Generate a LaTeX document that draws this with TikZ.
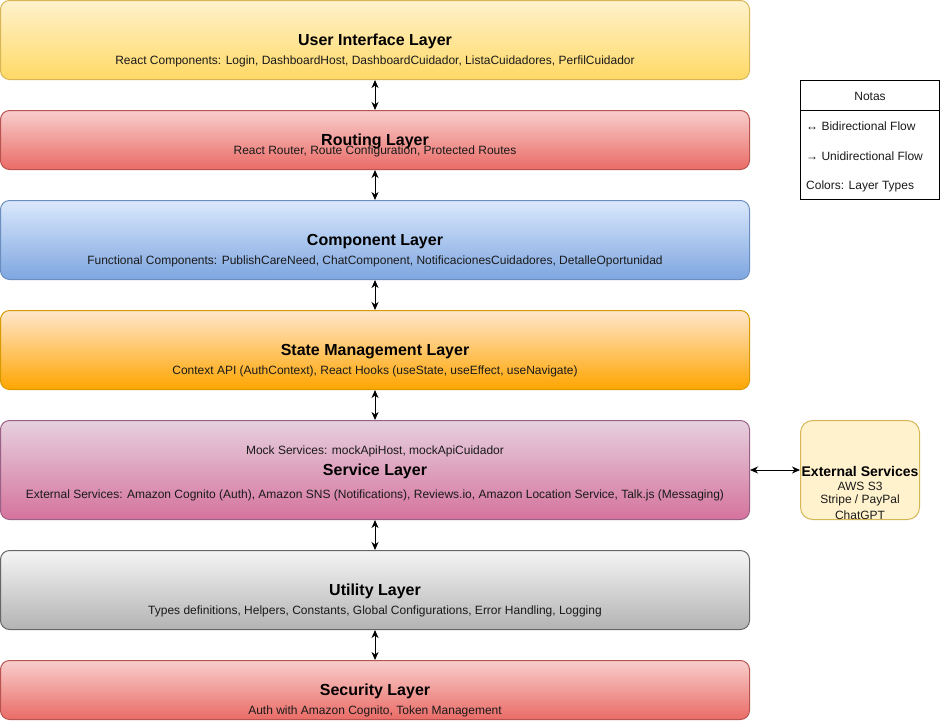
\documentclass[tikz,border=0pt]{standalone}
\usepackage{fontspec}
\setmainfont{Liberation Sans}
\usetikzlibrary{arrows.meta}
\definecolor{uiTop}{HTML}{FFF2CC}\definecolor{uiBot}{HTML}{FFD966}\definecolor{uiStr}{HTML}{D6B656}
\definecolor{rtTop}{HTML}{F8CECC}\definecolor{rtBot}{HTML}{EA6B66}\definecolor{rtStr}{HTML}{B85450}
\definecolor{cpTop}{HTML}{DAE8FC}\definecolor{cpBot}{HTML}{7EA6E0}\definecolor{cpStr}{HTML}{6C8EBF}
\definecolor{stTop}{HTML}{FFE6CC}\definecolor{stBot}{HTML}{FFA500}\definecolor{stStr}{HTML}{D79B00}
\definecolor{svTop}{HTML}{E6D0DE}\definecolor{svBot}{HTML}{D5739D}\definecolor{svStr}{HTML}{996185}
\definecolor{utTop}{HTML}{F5F5F5}\definecolor{utBot}{HTML}{B3B3B3}\definecolor{utStr}{HTML}{666666}
\definecolor{txt}{HTML}{1A1A1A}
\begin{document}
\begin{tikzpicture}[x=1pt,y=-1pt,
  layerbox/.style={draw, line width=1pt, rounded corners=9pt, minimum width=749pt, inner sep=0pt},
  titletext/.style={font=\fontsize{16}{19}\selectfont\bfseries, inner sep=0pt, text=black, yshift=-1.5pt},
  subtext/.style={font=\fontsize{12}{14}\selectfont, inner sep=0pt, text=txt, yshift=-1.2pt},
  notetext/.style={font=\fontsize{12}{14}\selectfont, inner sep=0pt, anchor=west, text=txt, yshift=-1.2pt},
  biarrow/.style={line width=1pt, {Stealth[length=8pt,width=7pt,inset=2.5pt]}-{Stealth[length=8pt,width=7pt,inset=2.5pt]}}
]
\useasboundingbox (0,0) rectangle (941,721);

\node[layerbox, minimum height=79pt, top color=uiTop, bottom color=uiBot, draw=uiStr] (ui) at (375,40) {};
\node[layerbox, minimum height=59pt, top color=rtTop, bottom color=rtBot, draw=rtStr] (rt) at (375,140) {};
\node[layerbox, minimum height=79pt, top color=cpTop, bottom color=cpBot, draw=cpStr] (cp) at (375,240) {};
\node[layerbox, minimum height=79pt, top color=stTop, bottom color=stBot, draw=stStr] (st) at (375,350) {};
\node[layerbox, minimum height=99pt, top color=svTop, bottom color=svBot, draw=svStr] (sv) at (375,470) {};
\node[layerbox, minimum height=79pt, top color=utTop, bottom color=utBot, draw=utStr] (ut) at (375,590) {};
\node[layerbox, minimum height=59pt, top color=rtTop, bottom color=rtBot, draw=rtStr] (sc) at (375,690) {};

\node[titletext] (uiT) at (375,40) {User Interface Layer};
\node[subtext] (uiS) at (375,60) {React Components: Login, DashboardHost, DashboardCuidador, ListaCuidadores, PerfilCuidador};
\node[titletext] (rtT) at (375,140) {Routing Layer};
\node[subtext] (rtS) at (375,150) {React Router, Route Configuration, Protected Routes};
\node[titletext] (cpT) at (375,240) {Component Layer};
\node[subtext] (cpS) at (375,260) {Functional Components: PublishCareNeed, ChatComponent, NotificacionesCuidadores, DetalleOportunidad};
\node[titletext] (stT) at (375,350) {State Management Layer};
\node[subtext] (stS) at (375,370) {Context API (AuthContext), React Hooks (useState, useEffect, useNavigate)};
\node[subtext] (svM) at (375,450) {Mock Services: mockApiHost, mockApiCuidador};
\node[titletext] (svT) at (375,470) {Service Layer};
\node[subtext] (svS) at (375,494) {External Services: Amazon Cognito (Auth), Amazon SNS (Notifications), Reviews.io, Amazon Location Service, Talk.js (Messaging)};
\node[titletext] (utT) at (375,590) {Utility Layer};
\node[subtext] (utS) at (375,610) {Types definitions, Helpers, Constants, Global Configurations, Error Handling, Logging};
\node[titletext] (scT) at (375,690) {Security Layer};
\node[subtext] (scS) at (375,710) {Auth with Amazon Cognito, Token Management};

\draw[biarrow] (ui.south) -- (rt.north);
\draw[biarrow] (rt.south) -- (cp.north);
\draw[biarrow] (cp.south) -- (st.north);
\draw[biarrow] (st.south) -- (sv.north);
\draw[biarrow] (sv.south) -- (ut.north);
\draw[biarrow] (ut.south) -- (sc.north);

% external services
\node[draw=uiStr, fill=uiTop, line width=1pt, rounded corners=12pt, minimum width=119pt, minimum height=99pt, inner sep=0pt] (ext) at (860,470) {};
\node[font=\fontsize{14}{17}\selectfont\bfseries, inner sep=0pt, yshift=-1.3pt] (extT) at (860,470) {External Services};
\node[subtext] (ext1) at (860,485) {AWS S3};
\node[subtext] (ext2) at (860,499.5) {Stripe / PayPal};
\node[subtext] (ext3) at (860,514) {ChatGPT};
\draw[biarrow] (sv.east) -- (ext.west);

% notes
\node[draw=black, line width=1pt, minimum width=139pt, minimum height=119pt, inner sep=0pt, fill=white] (notes) at (870,140) {};
\draw[line width=1pt] (800.5,110) -- (939.5,110);
\node[subtext] (notesT) at (870,95.5) {Notas};
\node[notetext] (n1) at (806,125.5) {↔ Bidirectional Flow};
\node[notetext] (n2) at (806,155.5) {→ Unidirectional Flow};
\node[notetext] (n3) at (806,185.5) {Colors: Layer Types};
\end{tikzpicture}
\end{document}
